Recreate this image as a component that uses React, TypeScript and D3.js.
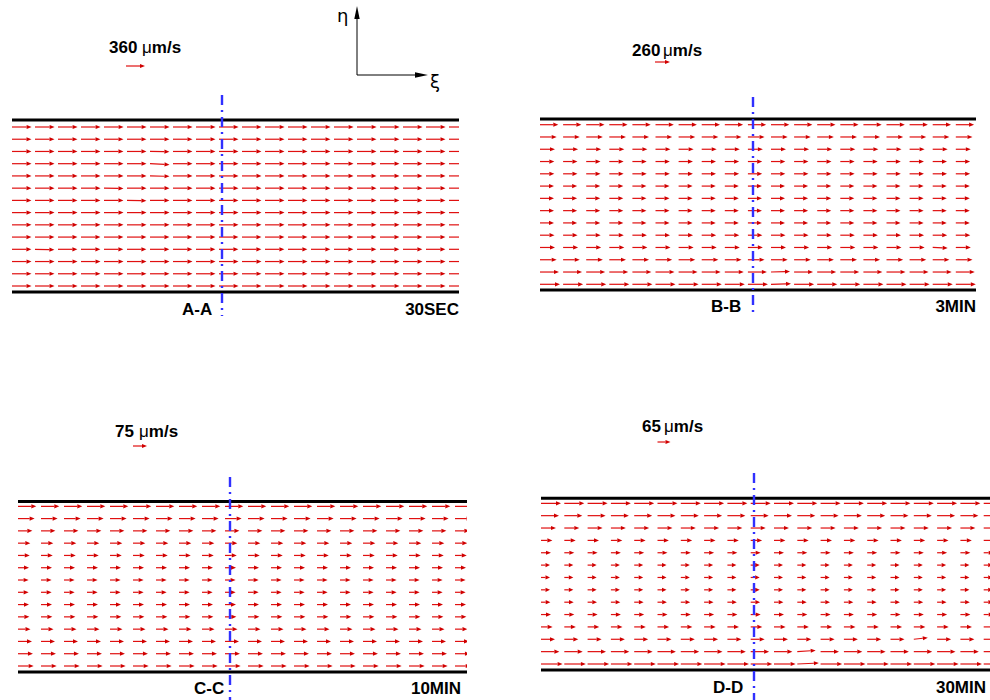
import React from "react";
import * as d3 from "d3";

// ---- data ----
const panelIds = ["A", "B", "C", "D"];
const sectionLabels = ["A-A", "B-B", "C-C", "D-D"];
const timeLabels = ["30SEC", "3MIN", "10MIN", "30MIN"];
const refSpeeds = [360, 260, 75, 65]; // μm/s, reference arrow
// row speeds (μm/s), top row to bottom row, 14 rows per panel
const speedsA = [372, 370, 368, 370, 370, 369, 368, 370, 369, 368, 367, 369, 370, 371];
const speedsB = [317, 289, 260, 248, 248, 243, 243, 243, 243, 251, 260, 289, 329, 347];
const speedsC = [98, 89, 77, 66, 63, 59, 57, 57, 59, 61, 67, 75, 80, 84];
const speedsD = [100, 90, 75, 57, 50, 45, 45, 45, 47, 50, 58, 70, 92, 108];
const rowSpeeds = [speedsA, speedsB, speedsC, speedsD];
// a few tilted arrows: [panel, row, col, transverse speed μm/s]
const tilts: [number, number, number, number][] = [
  [0, 3, 6, -18], [0, 4, 6, -8], [0, 2, 6, -6], [0, 5, 4, -6], [0, 6, 5, -6], [0, 10, 1, -10],
  [1, 13, 10, 10], [1, 12, 10, 8], [1, 10, 17, -10],
  [3, 12, 11, 6], [3, 13, 11, 5], [3, 11, 16, 8],
];

// ---- layout (pixels) ----
type Geo = {
  x0: number; x1: number; top: number; bottom: number;
  rowY0: number; rowY1: number; colStep: number;
  cx: number; cy0: number; cy1: number;
  refLen: number; refX: number; refY: number;
  numX: number; unitX: number; titleY: number;
  secX: number; labY: number; timeX: number;
};
const geos: Geo[] = [
  { x0: 12, x1: 459, top: 120, bottom: 292, rowY0: 127, rowY1: 286, colStep: 23, cx: 222, cy0: 95, cy1: 316,
    refLen: 19, refX: 126, refY: 66, numX: 109, unitX: 142, titleY: 53, secX: 182, labY: 315, timeX: 459 },
  { x0: 540, x1: 976, top: 119, bottom: 290, rowY0: 124.7, rowY1: 284.3, colStep: 23.1, cx: 753, cy0: 97, cy1: 315,
    refLen: 15, refX: 655, refY: 62, numX: 632, unitX: 663, titleY: 56, secX: 711, labY: 312, timeX: 976 },
  { x0: 18, x1: 467, top: 501.5, bottom: 672, rowY0: 506.3, rowY1: 666, colStep: 23, cx: 230, cy0: 477, cy1: 700,
    refLen: 14, refX: 133, refY: 446, numX: 115, unitX: 139, titleY: 437, secX: 194, labY: 694, timeX: 461 },
  { x0: 541, x1: 990, top: 498.3, bottom: 670, rowY0: 503.3, rowY1: 664, colStep: 23.3, cx: 754, cy0: 473, cy1: 700,
    refLen: 13, refX: 657.5, refY: 442, numX: 642, unitX: 664, titleY: 432, secX: 713, labY: 693, timeX: 986 },
];

const RED_LINE = "#e01010";
const RED_HEAD = "#d00000";
const BLUE = "#3030ff";
const FONT = "'Liberation Sans', Arial, sans-serif";
const FS = 17;

function Arrow({ x, y, dx, dy, head = 5 }: { x: number; y: number; dx: number; dy: number; head?: number }) {
  const len = Math.hypot(dx, dy);
  if (len < 0.1) return null;
  const ux = dx / len, uy = dy / len;
  const hl = Math.min(head, len * 0.5);
  const hw = 2.1;
  const ex = x + dx, ey = y + dy;
  const bx = ex - ux * hl, by = ey - uy * hl;
  const pts = [
    [ex, ey],
    [bx - uy * hw, by + ux * hw],
    [bx + uy * hw, by - ux * hw],
  ];
  return (
    <g>
      <line x1={x} y1={y} x2={bx} y2={by} stroke={RED_LINE} strokeWidth={1.2} />
      <polygon points={pts.map((p) => p.join(",")).join(" ")} fill={RED_HEAD} />
    </g>
  );
}

function Panel({ i }: { i: number }) {
  const g = geos[i];
  const speeds = rowSpeeds[i];
  const lenScale = d3.scaleLinear().domain([0, refSpeeds[i]]).range([0, g.refLen]);
  const yScale = d3.scaleLinear().domain([0, speeds.length - 1]).range([g.rowY0, g.rowY1]);
  const nCols = Math.ceil((g.x1 - g.x0) / g.colStep);
  const cols = d3.range(nCols);
  const clipId = `clip-${panelIds[i]}`;
  const tiltMap = new Map<string, number>();
  tilts.filter((t) => t[0] === i).forEach((t) => tiltMap.set(`${t[1]}-${t[2]}`, t[3]));
  return (
    <g>
      <defs>
        <clipPath id={clipId}>
          <rect x={g.x0} y={g.top} width={g.x1 - g.x0} height={g.bottom - g.top} />
        </clipPath>
      </defs>
      <g clipPath={`url(#${clipId})`}>
        {speeds.map((s, r) =>
          cols.map((c) => {
            const v = tiltMap.get(`${r}-${c}`) ?? 0;
            return (
              <Arrow key={`${r}-${c}`} x={g.x0 + c * g.colStep} y={yScale(r)} dx={lenScale(s)} dy={-lenScale(v)} />
            );
          })
        )}
      </g>
      <line x1={g.x0} x2={g.x1} y1={g.top} y2={g.top} stroke="#000" strokeWidth={3} />
      <line x1={g.x0} x2={g.x1} y1={g.bottom} y2={g.bottom} stroke="#000" strokeWidth={3} />
      <line x1={g.cx} x2={g.cx} y1={g.cy0} y2={g.cy1} stroke={BLUE} strokeWidth={2.4} strokeDasharray="10,5,2,5" />
      <Arrow x={g.refX} y={g.refY} dx={lenScale(refSpeeds[i])} dy={0} />
      <text x={g.numX} y={g.titleY} fontFamily={FONT} fontWeight="bold" fontSize={FS}>
        {refSpeeds[i]}
      </text>
      <text x={g.unitX} y={g.titleY} fontFamily={FONT} fontWeight="bold" fontSize={FS}>
        <tspan fontWeight="normal">μ</tspan>m/s
      </text>
      <text x={g.secX} y={g.labY} fontFamily={FONT} fontWeight="bold" fontSize={FS}>
        {sectionLabels[i]}
      </text>
      <text x={g.timeX} y={g.labY} textAnchor="end" fontFamily={FONT} fontWeight="bold" fontSize={FS}>
        {timeLabels[i]}
      </text>
    </g>
  );
}

export default function App() {
  return (
    <svg width={990} height={700} style={{ position: "absolute", left: 0, top: 0, background: "#fff" }}>
      <rect width={990} height={700} fill="#fff" />
      {/* coordinate symbol */}
      <line x1={357} y1={75} x2={357} y2={18} stroke="#000" strokeWidth={1} />
      <polygon points="357,6 354.3,19 359.7,19" fill="#000" />
      <line x1={357} y1={75} x2={416} y2={75} stroke="#000" strokeWidth={1} />
      <polygon points="428,75 415,72.3 415,77.7" fill="#000" />
      <text x={337} y={22} fontFamily="'DejaVu Sans', sans-serif" fontSize={18}>η</text>
      <text x={430} y={88} fontFamily="'DejaVu Sans', sans-serif" fontSize={18}>ξ</text>
      {panelIds.map((_, i) => (
        <Panel key={i} i={i} />
      ))}
    </svg>
  );
}
